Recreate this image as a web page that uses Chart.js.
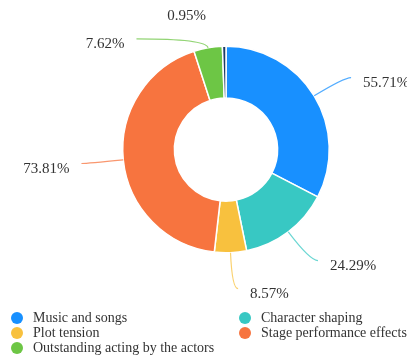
<!DOCTYPE html>
<html>
<head>
<meta charset="utf-8">
<script src="https://cdn.jsdelivr.net/npm/chart.js@4/dist/chart.umd.min.js"></script>
<style>
  html, body { margin:0; padding:0; background:#fff; overflow:hidden; }
  #wrap { position:relative; width:407px; height:361px; }
  #c { position:absolute; left:0; top:0; }
  #legend { position:absolute; left:11px; top:310px; display:grid; grid-template-columns:228px 200px;
            font-family:"Liberation Serif","Times New Roman",serif; font-size:14px; color:#333; }
  .item { display:flex; align-items:center; height:15px; white-space:nowrap; }
  .dot { width:12px; height:12px; border-radius:50%; margin-right:10px; flex:none; }
</style>
</head>
<body>
<div id="wrap">
  <canvas id="c" width="407" height="361"></canvas>
  <div id="legend"></div>
</div>
<script>
const categories = ['Music and songs', 'Character shaping', 'Plot tension', 'Stage performance effects', 'Outstanding acting by the actors', ''];
const values = [55.71, 24.29, 8.57, 73.81, 7.62, 0.95];
const valueLabels = ['55.71%', '24.29%', '8.57%', '73.81%', '7.62%', '0.95%'];
const colors = ['#1890ff', '#38c8c3', '#f8c13e', '#f7743f', '#6dc645', '#1e3a66'];

// label-line layout (radial length, horizontal length, whether drawn)
const lineLen1 = [35, 36, 36, 36, 9, 35.5];
const lineLen2 = [7, 8, 6, 6, 70, 5.5];
const lineShown = [true, true, true, true, true, false];

const labelPlugin = {
  id: 'outLabels',
  afterDatasetsDraw(chart) {
    const ctx = chart.ctx;
    const meta = chart.getDatasetMeta(0);
    ctx.save();
    meta.data.forEach((arc, i) => {
      const mid = (arc.startAngle + arc.endAngle) / 2;
      const r = arc.outerRadius;
      const dx = Math.cos(mid), dy = Math.sin(mid);
      const p0 = { x: arc.x + dx * r, y: arc.y + dy * r };
      const p1 = { x: p0.x + dx * lineLen1[i], y: p0.y + dy * lineLen1[i] };
      const side = dx >= 0 ? 1 : -1;
      const p2 = { x: p1.x + side * lineLen2[i], y: p1.y };
      if (lineShown[i]) {
        ctx.beginPath();
        ctx.moveTo(p0.x, p0.y);
        ctx.quadraticCurveTo(p1.x, p1.y, p2.x, p2.y);
        ctx.strokeStyle = colors[i];
        ctx.globalAlpha = 0.75;
        ctx.lineWidth = 1.2;
        ctx.stroke();
        ctx.globalAlpha = 1;
      }
      ctx.font = '15px "Liberation Serif", "Times New Roman", serif';
      ctx.fillStyle = '#333';
      ctx.textBaseline = 'middle';
      ctx.textAlign = side > 0 ? 'left' : 'right';
      ctx.fillText(valueLabels[i], p2.x + side * 12, p2.y + 5.5);
    });
    ctx.restore();
  }
};

new Chart(document.getElementById('c'), {
  type: 'doughnut',
  data: {
    labels: categories,
    datasets: [{
      data: values,
      backgroundColor: colors,
      borderColor: '#ffffff',
      borderWidth: 1.5
    }]
  },
  options: {
    responsive: false,
    animation: false,
    events: [],
    cutout: '50%',
    layout: { padding: { left: 122, right: 77, top: 45, bottom: 107 } },
    plugins: { legend: { display: false }, tooltip: { enabled: false } }
  },
  plugins: [labelPlugin]
});

const legend = document.getElementById('legend');
categories.forEach((name, i) => {
  if (!name) return;
  const it = document.createElement('div');
  it.className = 'item';
  const dot = document.createElement('span');
  dot.className = 'dot';
  dot.style.background = colors[i];
  const t = document.createElement('span');
  t.textContent = name;
  it.appendChild(dot);
  it.appendChild(t);
  legend.appendChild(it);
});
</script>
</body>
</html>
